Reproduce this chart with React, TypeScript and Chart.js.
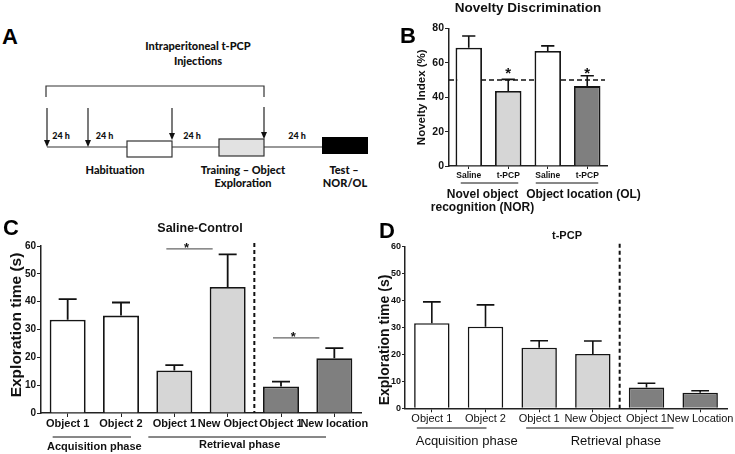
import React, { useEffect, useRef } from 'react';
import { Chart, registerables } from 'chart.js';

Chart.register(...registerables);

const FONT = "'Liberation Sans', Arial, Helvetica, sans-serif";
const AFONT = "Lato, 'Open Sans', sans-serif";

// ---------- Panel B : Novelty Discrimination ----------
const bCategories = ['Saline', 't-PCP', 'Saline', 't-PCP'];
const bMeans = [68.8, 43.6, 66.9, 46.5];
const bErrors = [6.8, 6.8, 3.0, 6.0];
const bColors = ['#ffffff', '#d6d6d6', '#ffffff', '#7f7f7f'];
const bChanceLevel = 50;
const bStarred = [1, 3];
const bStarLevel = 56.3;
const bGroupNOR = ['Novel object', 'recognition (NOR)'];
const bGroupOL = ['Object location (OL)'];

// ---------- Panel C : Saline-Control ----------
const cCategories = ['Object 1', 'Object 2', 'Object 1', 'New Object', 'Object 1', 'New location'];
const cMeans = [33.5, 35.0, 15.3, 45.3, 9.5, 19.7];
const cErrors = [7.4, 4.7, 1.9, 11.7, 1.8, 3.6];
const cSigPairs = [[2, 3], [4, 5]];
const cSigLevels = [59, 27];

// ---------- Panel D : t-PCP ----------
const dCategories = ['Object 1', 'Object 2', 'Object 1', 'New Object', 'Object 1', 'New Location'];
const dMeans = [31.6, 30.3, 22.5, 20.2, 7.7, 5.8];
const dErrors = [7.9, 8.1, 2.6, 4.8, 1.6, 0.7];

const phaseColors = ['#ffffff', '#ffffff', '#d6d6d6', '#d6d6d6', '#7f7f7f', '#7f7f7f'];
const phaseLabels = ['Acquisition phase', 'Retrieval phase'];

function errorBars(errors: number[], width: number) {
  return {
    id: 'errbars',
    afterDatasetsDraw(chart: any) {
      const { ctx } = chart;
      const meta = chart.getDatasetMeta(0);
      const data = chart.data.datasets[0].data as number[];
      const y = chart.scales.y;
      ctx.save();
      ctx.strokeStyle = '#111';
      ctx.lineWidth = width;
      meta.data.forEach((el: any, i: number) => {
        const p = el.getProps(['x', 'y', 'width'], true);
        const top = y.getPixelForValue(data[i] + errors[i]);
        ctx.beginPath();
        ctx.moveTo(p.x, p.y);
        ctx.lineTo(p.x, top);
        ctx.moveTo(p.x - p.width / 4, top);
        ctx.lineTo(p.x + p.width / 4, top);
        ctx.stroke();
      });
      ctx.restore();
    },
  };
}

function txt(ctx: CanvasRenderingContext2D, s: string, x: number, y: number, font: string,
  align: CanvasTextAlign = 'center', base: CanvasTextBaseline = 'middle', color = '#111') {
  ctx.save();
  ctx.font = font;
  ctx.fillStyle = color;
  ctx.textAlign = align;
  ctx.textBaseline = base;
  ctx.fillText(s, x, y);
  ctx.restore();
}

function vtxt(ctx: CanvasRenderingContext2D, s: string, x: number, y: number, font: string) {
  ctx.save();
  ctx.translate(x, y);
  ctx.rotate(-Math.PI / 2);
  ctx.font = font;
  ctx.fillStyle = '#111';
  ctx.textAlign = 'center';
  ctx.textBaseline = 'middle';
  ctx.fillText(s, 0, 0);
  ctx.restore();
}

function hline(ctx: CanvasRenderingContext2D, x1: number, x2: number, y: number, color = '#111', w = 1) {
  ctx.save();
  ctx.strokeStyle = color;
  ctx.lineWidth = w;
  ctx.beginPath();
  ctx.moveTo(x1, y);
  ctx.lineTo(x2, y);
  ctx.stroke();
  ctx.restore();
}

function axisOpts(opts: any) {
  return {
    grid: { display: true, drawOnChartArea: false, drawTicks: true, tickLength: opts.tick, tickColor: '#222', tickWidth: 1, offset: false },
    border: { display: true, color: '#222', width: 1.5 },
  };
}

const bPlugin = {
  id: 'bAnno',
  beforeDatasetsDraw(chart: any) {
    const { ctx, chartArea, scales: { y } } = chart;
    const yy = y.getPixelForValue(bChanceLevel);
    ctx.save();
    ctx.setLineDash([5, 3]);
    ctx.strokeStyle = '#111';
    ctx.lineWidth = 1.6;
    ctx.beginPath();
    ctx.moveTo(chartArea.left, yy);
    ctx.lineTo(chartArea.right - 2, yy);
    ctx.stroke();
    ctx.restore();
  },
  afterDraw(chart: any) {
    const { ctx, chartArea, scales: { x, y } } = chart;
    const px = (i: number) => x.getPixelForTick(i);
    txt(ctx, 'Novelty Discrimination', 148, 8, `bold 13.5px ${FONT}`);
    txt(ctx, 'B', 20, 43, `bold 22px ${FONT}`, 'left', 'alphabetic', '#000');
    vtxt(ctx, 'Novelty Index (%)', 42, (chartArea.top + chartArea.bottom) / 2, `bold 11.5px ${FONT}`);
    bStarred.forEach((i) => {
      txt(ctx, '*', px(i), y.getPixelForValue(bStarLevel) + 8.6, `bold 15px ${FONT}`, 'center', 'alphabetic', '#111');
    });
    const ly = chartArea.bottom + 17;
    hline(ctx, px(0) - 8, px(1) + 10, ly);
    hline(ctx, px(2) - 12, px(3) + 11, ly);
    const m1 = (px(0) + px(1)) / 2 - 6;
    const m2 = (px(2) + px(3)) / 2 + 16;
    txt(ctx, bGroupNOR[0], m1, ly + 12, `bold 12px ${FONT}`);
    txt(ctx, bGroupNOR[1], m1, ly + 25, `bold 12px ${FONT}`);
    txt(ctx, bGroupOL[0], m2, ly + 12, `bold 12px ${FONT}`);
  },
};

function phasePlugin(panel: any) {
  return {
    id: 'phaseAnno',
    afterDraw(chart: any) {
      const { ctx, chartArea, scales: { x, y } } = chart;
      const px = (i: number) => x.getPixelForTick(i);
      txt(ctx, panel.letter, panel.letterX, panel.letterY, `bold 22px ${FONT}`, 'left', 'alphabetic', '#000');
      txt(ctx, panel.title, panel.titleX, panel.titleY, `bold ${panel.titleSize}px ${FONT}`);
      vtxt(ctx, 'Exploration time (s)', panel.yTitleX, panel.yTitleY, `bold ${panel.yTitleSize}px ${FONT}`);
      // dashed divider
      const xd = (px(3) + px(4)) / 2;
      ctx.save();
      ctx.setLineDash([4, 3]);
      ctx.strokeStyle = '#111';
      ctx.lineWidth = 2;
      ctx.beginPath();
      ctx.moveTo(xd, chartArea.top - 3);
      ctx.lineTo(xd, chartArea.bottom);
      ctx.stroke();
      ctx.restore();
      // significance
      (panel.sigPairs || []).forEach((pr: number[], k: number) => {
        const ly = y.getPixelForValue(panel.sigLevels[k]);
        const x1 = px(pr[0]) - 8;
        const x2 = px(pr[1]) - 15;
        hline(ctx, x1, x2, ly, '#666', 1.2);
        txt(ctx, '*', (x1 + x2) / 2 - 3, ly + 3.6, `bold 13px ${FONT}`, 'center', 'alphabetic', '#111');
      });
      // phase underlines
      const uy = chartArea.bottom + panel.underOffset;
      hline(ctx, px(0) - 15, px(1) + panel.acqRight, uy);
      hline(ctx, px(2) - panel.retLeft, px(4) + panel.retRight, uy);
      txt(ctx, phaseLabels[0], (px(0) + px(1)) / 2 + panel.acqShift, uy + panel.labelOffset, panel.phaseFont);
      txt(ctx, phaseLabels[1], px(3) + panel.retShift, uy + panel.labelOffset - panel.retLift, panel.phaseFont);
    },
  };
}

function makeBar(canvas: HTMLCanvasElement, o: any) {
  return new Chart(canvas, {
    type: 'bar',
    data: {
      labels: o.labels,
      datasets: [{
        data: o.values,
        backgroundColor: o.colors,
        borderColor: '#151515',
        borderWidth: o.borderWidth,
        borderSkipped: 'start',
        barPercentage: o.barPct,
        categoryPercentage: 1,
      }],
    },
    options: {
      responsive: false,
      devicePixelRatio: 1,
      animation: false,
      events: [],
      layout: { padding: o.padding },
      plugins: { legend: { display: false }, tooltip: { enabled: false }, title: { display: false } },
      scales: {
        x: {
          type: 'category',
          offset: true,
          z: 1,
          ...axisOpts({ tick: o.xTick }),
          ticks: { autoSkip: false, maxRotation: 0, minRotation: 0, padding: o.xPad, color: '#111', font: o.xFont },
          afterFit: (s: any) => { s.height = o.xHeight; },
        },
        y: {
          min: 0,
          max: o.yMax,
          z: 1,
          ...axisOpts({ tick: o.yTick }),
          ticks: { stepSize: o.yStep, padding: 1, color: '#111', font: o.yFont },
          afterFit: (s: any) => { s.width = o.yWidth; },
        },
      },
    } as any,
    plugins: o.plugins,
  });
}

function PanelA() {
  const arrow = (x: number, y1: number, tip: number) => (
    <g key={x}>
      <line x1={x} y1={y1} x2={x} y2={tip - 5} stroke="#222" strokeWidth={1.2} />
      <polygon points={`${x - 3},${tip - 7} ${x + 3},${tip - 7} ${x},${tip}`} fill="#111" />
    </g>
  );
  const t = { fontFamily: AFONT, fontWeight: 900, fill: '#111', textAnchor: 'middle' as const };
  return (
    <svg width={380} height={215} style={{ position: 'absolute', left: 0, top: 0 }}>
      <text x={2} y={44} style={{ fontFamily: FONT, fontWeight: 700, fontSize: 22 }} fill="#000">A</text>
      <text x={198} y={50} {...t} fontSize={11}>Intraperitoneal t-PCP</text>
      <text x={198} y={65} {...t} fontSize={11}>Injections</text>
      <path d="M46 97 V86 H264 V97" fill="none" stroke="#333" strokeWidth={1.2} />
      <line x1={47} y1={147} x2={322} y2={147} stroke="#333" strokeWidth={1.2} />
      {arrow(47, 108, 147)}
      {arrow(88, 108, 147)}
      {arrow(172, 108, 140)}
      {arrow(264, 107, 139)}
      <rect x={127} y={141} width={45} height={16} fill="#fff" stroke="#333" strokeWidth={1.2} />
      <rect x={219} y={139} width={45} height={17} fill="#e2e2e2" stroke="#333" strokeWidth={1.2} />
      <rect x={322} y={137} width={46} height={17} fill="#000" />
      <text x={61} y={139} {...t} fontSize={9}>24 h</text>
      <text x={104.5} y={139} {...t} fontSize={9}>24 h</text>
      <text x={192} y={139} {...t} fontSize={9}>24 h</text>
      <text x={297} y={139} {...t} fontSize={9}>24 h</text>
      <text x={115} y={174} {...t} fontSize={11}>Habituation</text>
      <text x={243} y={174} {...t} fontSize={11}>Training – Object</text>
      <text x={243} y={187} {...t} fontSize={11}>Exploration</text>
      <text x={344} y={174} {...t} fontSize={11}>Test –</text>
      <text x={345} y={187} {...t} fontSize={11}>NOR/OL</text>
    </svg>
  );
}

export default function App() {
  const bRef = useRef<HTMLCanvasElement>(null);
  const cRef = useRef<HTMLCanvasElement>(null);
  const dRef = useRef<HTMLCanvasElement>(null);

  useEffect(() => {
    const charts: Chart[] = [];
    if (bRef.current) {
      charts.push(makeBar(bRef.current, {
        labels: bCategories, values: bMeans, colors: bColors, borderWidth: 1.8, barPct: 0.67,
        padding: { top: 28.5, right: 128, left: 0, bottom: 0 },
        xTick: 3, xPad: 2, xFont: { family: FONT, size: 8.5, weight: 'bold' }, xHeight: 218 - 166,
        yMax: 80, yStep: 20, yTick: 4, yFont: { family: FONT, size: 10.5, weight: 'bold' }, yWidth: 69,
        plugins: [errorBars(bErrors, 1.6), bPlugin],
      }));
    }
    if (cRef.current) {
      charts.push(makeBar(cRef.current, {
        labels: cCategories, values: cMeans, colors: phaseColors, borderWidth: 1.8, barPct: 0.675,
        padding: { top: 31, right: 14, left: 0, bottom: 0 },
        xTick: 4, xPad: 0, xFont: { family: FONT, size: 11, weight: 'bold' }, xHeight: 239 - 198,
        yMax: 60, yStep: 10, yTick: 4, yFont: { family: FONT, size: 10, weight: 'bold' }, yWidth: 41,
        plugins: [errorBars(cErrors, 1.8), phasePlugin({
          letter: 'C', letterX: 3, letterY: 20, title: 'Saline-Control', titleX: 200, titleY: 14, titleSize: 12.5,
          yTitleX: 17, yTitleY: 110, yTitleSize: 15.5, sigPairs: cSigPairs, sigLevels: cSigLevels,
          underOffset: 24, acqRight: 10, retLeft: 26, retRight: 45, acqShift: 0, retShift: 12,
          labelOffset: 10, retLift: 2, phaseFont: `bold 11px ${FONT}`,
        })],
      }));
    }
    if (dRef.current) {
      charts.push(makeBar(dRef.current, {
        labels: dCategories, values: dMeans, colors: phaseColors, borderWidth: 1.6, barPct: 0.66,
        padding: { top: 31.7, right: 8, left: 0, bottom: 0 },
        xTick: 4, xPad: 0, xFont: { family: FONT, size: 11, weight: 'normal' }, xHeight: 239 - 193.3,
        yMax: 60, yStep: 10, yTick: 3, yFont: { family: FONT, size: 9, weight: 'bold' }, yWidth: 30,
        plugins: [errorBars(dErrors, 1.6), phasePlugin({
          letter: 'D', letterX: 4, letterY: 23, title: 't-PCP', titleX: 192, titleY: 21, titleSize: 11,
          yTitleX: 10, yTitleY: 125, yTitleSize: 14, sigPairs: [], sigLevels: [],
          underOffset: 19.7, acqRight: 1, retLeft: 13, retRight: 27, acqShift: 8, retShift: 23,
          labelOffset: 13, retLift: 0, phaseFont: `13px ${FONT}`,
        })],
      }));
    }
    return () => { charts.forEach((c) => c.destroy()); };
  }, []);

  return (
    <div style={{ position: 'fixed', left: 0, top: 0, width: 735, height: 454, background: '#fff', overflow: 'hidden' }}>
      <PanelA />
      <canvas ref={bRef} width={355} height={218} style={{ position: 'absolute', left: 380, top: 0 }} />
      <canvas ref={cRef} width={375} height={239} style={{ position: 'absolute', left: 0, top: 215 }} />
      <canvas ref={dRef} width={360} height={239} style={{ position: 'absolute', left: 375, top: 215 }} />
    </div>
  );
}
